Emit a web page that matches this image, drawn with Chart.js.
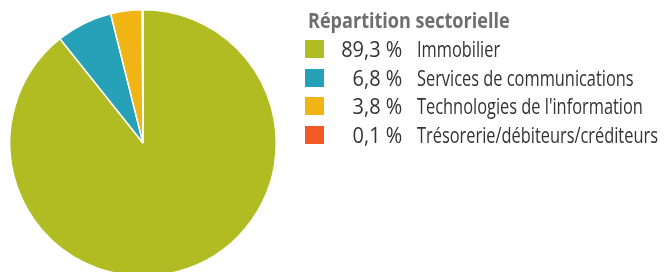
<!DOCTYPE html>
<html>
<head>
<meta charset="utf-8">
<script src="https://cdn.jsdelivr.net/npm/chart.js@4"></script>
<style>
    html, body { margin: 0; padding: 0; background: #fff; width: 664px; height: 272px; overflow: hidden; }
    #chartBox { position: absolute; left: 9px; top: 9px; width: 268px; height: 268px; }
    #legend { position: absolute; left: 0; top: 0; width: 664px; height: 272px; font-family: "Open Sans", sans-serif; }
    .txt { position: absolute; white-space: nowrap; font-size: 21px; line-height: 28px; color: #333; }
    .title { font-weight: bold; color: #6e6e6e; transform-origin: left center; }
    .pct { transform-origin: right center; text-align: right; }
    .lab { transform-origin: left center; }
    .sw { position: absolute; width: 19px; height: 18px; }
</style>
</head>
<body>
<div id="chartBox"><canvas id="myChart"></canvas></div>
<div id="legend"></div>
<script>
// data
const title = "Répartition sectorielle";
const categories = [
    'Immobilier',
    'Services de communications',
    "Technologies de l'information",
    'Trésorerie/débiteurs/créditeurs',
];
const values = [89.3, 6.8, 3.8, 0.1];
const colors = ['#b0bc22', '#27a1b8', '#f0b514', '#f15a24'];

// legend (html), font squeezed to look condensed
const legend = document.getElementById("legend");
const squeeze = 0.78;

let t = document.createElement("div");
t.className = "txt title";
t.textContent = title;
t.style.left = "308px";
t.style.top = "6px";
t.style.transform = `scaleX(0.86)`;
legend.appendChild(t);

for (let i = 0; i < categories.length; i++) {
    const y = 40 + i * 28.5;
    let sw = document.createElement("div");
    sw.className = "sw";
    sw.style.left = "305px";
    sw.style.top = y + "px";
    sw.style.background = colors[i];
    legend.appendChild(sw);

    let p = document.createElement("div");
    p.className = "txt pct";
    p.innerHTML = values[i].toFixed(1).replace('.', ',') + "&nbsp;%";
    p.style.right = (664 - 402) + "px";
    p.style.top = (y - 5) + "px";
    p.style.transform = `scaleX(0.95)`;
    legend.appendChild(p);

    let l = document.createElement("div");
    l.className = "txt lab";
    l.textContent = categories[i];
    l.style.left = "417px";
    l.style.top = (y - 5) + "px";
    l.style.transform = `scaleX(${squeeze})`;
    legend.appendChild(l);
}

const data = {
    labels: categories,
    datasets: [{
        data: values,
        backgroundColor: colors,
        borderColor: '#ffffff',
        borderWidth: 1.5,
    }]
};
const config = {
    type: 'pie',
    data,
    options: {
        responsive: true,
        maintainAspectRatio: false,
        animation: false,
        layout: { padding: 0 },
        plugins: {
            legend: { display: false },
            tooltip: { enabled: false },
        }
    }
};

var myChart = new Chart(
    document.getElementById('myChart'),
    config
);
</script>
</body>
</html>
